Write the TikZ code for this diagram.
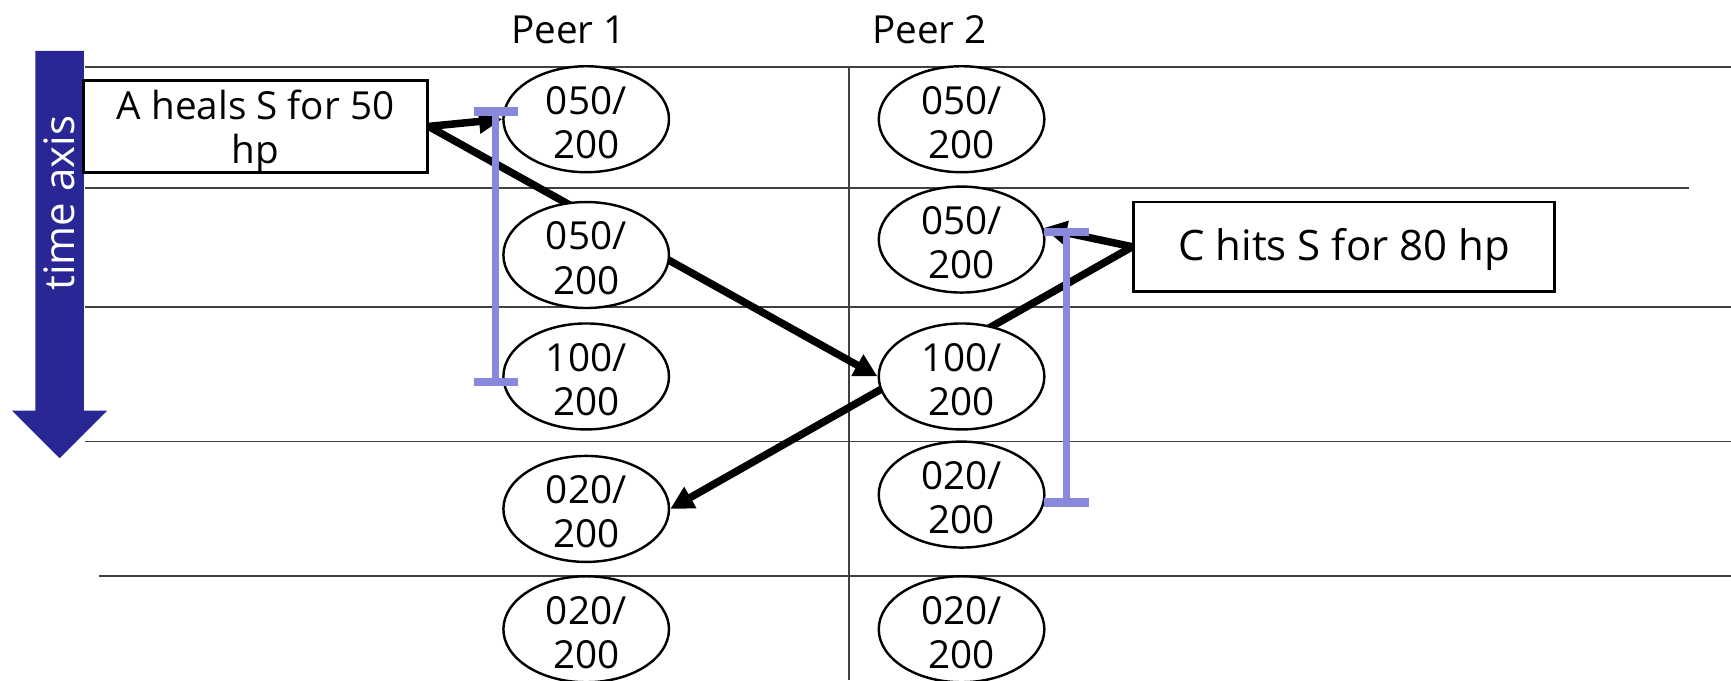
\documentclass[tikz,border=0pt]{standalone}
\usepackage{fontspec}
\setmainfont{Open Sans}
\usetikzlibrary{arrows.meta,backgrounds,shapes.geometric}
\definecolor{axisblue}{RGB}{41,38,150}
\definecolor{spanblue}{RGB}{136,136,221}
\definecolor{gridgray}{RGB}{64,64,64}
% two-line hit point reading; zero-size box so the ellipse keeps its own size
\newcommand\hpread[2]{\raisebox{-8pt}[0pt][0pt]{\begin{tabular}{@{}c@{}}#1\\#2\end{tabular}}}

\begin{document}
\begin{tikzpicture}[x=0.5pt,y=-0.5pt,
  state/.style={ellipse, draw, line width=1.1pt, fill=white,
    minimum width=75pt, minimum height=48pt, inner sep=0pt,
    font=\fontsize{17.5}{20}\selectfont},
  event/.style={draw, line width=1.3pt, fill=white, align=center, inner sep=0pt},
  msg/.style={line width=3.4pt, -{Triangle[length=10.5pt,width=10.5pt]}},
  rowline/.style={gridgray, line width=0.8pt},
  colline/.style={gridgray, line width=0.5pt},
  spanbar/.style={spanblue, line width=3.2pt},
  spancap/.style={spanblue, line width=3.8pt},
  peerlabel/.style={font=\fontsize{17.5}{20}\selectfont, inner sep=0pt}
]
\useasboundingbox (0,0) rectangle (1568,616);

% time axis arrow
\fill[axisblue] (32,46) -- (76,46) -- (76,372) -- (97,372) -- (54,415)
  -- (11,372) -- (32,372) -- cycle;
\node[rotate=90, text=white, font=\fontsize{19}{22}\selectfont, inner sep=0pt]
  (axis) at (54,184) {time axis};

% peer headers
\node[peerlabel] (peer1) at (515,27) {Peer 1};
\node[peerlabel] (peer2) at (842,27) {Peer 2};

% event boxes
\node[event, minimum width=155.5pt, minimum height=41.5pt, text depth=-5pt,
  font=\fontsize{17.5}{20}\selectfont] (heal) at (231.5,114.5)
  {A heals S for 50\\hp};
\node[event, minimum width=190.5pt, minimum height=40.5pt, text depth=2pt,
  font=\fontsize{19}{22}\selectfont] (hit) at (1217.5,223.5)
  {C hits S for 80 hp};

% states seen by peer 1
\node[state] (p11) at (531,108) {\hpread{050/}{200}};
\node[state] (p12) at (531,231) {\hpread{050/}{200}};
\node[state] (p13) at (531,341) {\hpread{100/}{200}};
\node[state] (p14) at (531,461) {\hpread{020/}{200}};
\node[state] (p15) at (531,570) {\hpread{020/}{200}};

% states seen by peer 2
\node[state] (p21) at (871,108) {\hpread{050/}{200}};
\node[state] (p22) at (871,217) {\hpread{050/}{200}};
\node[state] (p23) at (871,341) {\hpread{100/}{200}};
\node[state] (p24) at (871,448) {\hpread{020/}{200}};
\node[state] (p25) at (871,570) {\hpread{020/}{200}};

\begin{scope}[on background layer]
  % time slots
  \draw[rowline] (77,61) -- (1568,61);
  \draw[rowline] (77,170) -- (1530,170);
  \draw[rowline] (77,278) -- (1568,278);
  \draw[rowline] (77,400) -- (1568,400);
  \draw[rowline] (90,522) -- (1568,522);
  \draw[colline] (769,61) -- (769,616);
  % messages
  \draw[msg] (heal.east) -- (p11.west);
  \draw[msg] (heal.east) -- (p23.west);
  \draw[msg] (hit.west) -- (p22.8);
  \draw[msg] (hit.west) -- (p14.east);
\end{scope}

% latency spans
\coordinate (s1t) at (449,101);
\coordinate (s1b) at (449,346);
\coordinate (s2t) at (966,210);
\coordinate (s2b) at (966,455);
\draw[spanbar] (s1t) -- (s1b);
\draw[spancap] ([xshift=-10pt]s1t) -- ([xshift=10pt]s1t);
\draw[spancap] ([xshift=-10pt]s1b) -- ([xshift=10pt]s1b);
\draw[spanbar] (s2t) -- (s2b);
\draw[spancap] ([xshift=-10pt]s2t) -- ([xshift=10pt]s2t);
\draw[spancap] ([xshift=-10pt]s2b) -- ([xshift=10pt]s2b);
\end{tikzpicture}
\end{document}
